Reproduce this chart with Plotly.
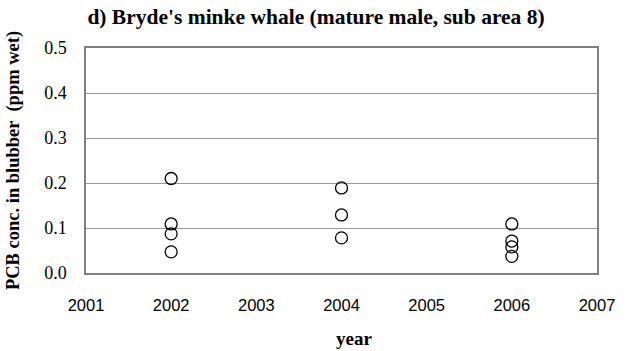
import plotly.graph_objects as go

years_2002 = [2002, 2002, 2002, 2002]
pcb_2002 = [0.21, 0.109, 0.087, 0.047]
years_2004 = [2004, 2004, 2004]
pcb_2004 = [0.189, 0.129, 0.078]
years_2006 = [2006, 2006, 2006, 2006]
pcb_2006 = [0.109, 0.071, 0.058, 0.037]

x_vals = years_2002 + years_2004 + years_2006
y_vals = pcb_2002 + pcb_2004 + pcb_2006

y_ticks = [0.0, 0.1, 0.2, 0.3, 0.4, 0.5]
x_ticks = [2001, 2002, 2003, 2004, 2005, 2006, 2007]

SERIF = "Liberation Serif, Times New Roman, serif"
SANS = "Liberation Sans, Arial, sans-serif"

fig = go.Figure()
fig.add_trace(go.Scatter(
    x=x_vals, y=y_vals, mode="markers",
    marker=dict(symbol="circle-open", size=12, color="black", line=dict(width=1.3, color="black")),
    showlegend=False,
))

fig.update_layout(
    width=627, height=351,
    margin=dict(l=86, r=30, t=48, b=78),
    paper_bgcolor="white", plot_bgcolor="white",
    title=dict(text="<b>d) Bryde's minke whale (mature male, sub area 8)</b>",
             x=0.504, xref="container", xanchor="center", y=0.952, yanchor="middle",
             font=dict(family=SERIF, size=21.5, color="black")),
    annotations=[dict(
        text="<b>year</b>", xref="paper", yref="paper", x=0.524, y=-0.289,
        xanchor="center", yanchor="middle", showarrow=False,
        font=dict(family=SERIF, size=19, color="black"),
    )],
)
fig.update_xaxes(
    range=[2001, 2007], tickvals=x_ticks, ticktext=[str(v) for v in x_ticks],
    showgrid=False, showline=True, linecolor="#808080", linewidth=1.5, mirror=True,
    ticks="", tickfont=dict(family=SANS, size=16.5, color="black"),
    ticklabelstandoff=16, automargin=False,
    zeroline=False,
)
fig.update_yaxes(
    range=[0, 0.5], tickvals=y_ticks, ticktext=[f"{v:.1f}" for v in y_ticks],
    showgrid=True, gridcolor="#999999", gridwidth=1,
    showline=True, linecolor="#808080", linewidth=1.5, mirror=True,
    ticks="", tickfont=dict(family=SERIF, size=18, color="black"),
    ticklabelstandoff=14, automargin=False,
    title=dict(text="<b>PCB conc. in blubber  (ppm wet)</b>", font=dict(family=SERIF, size=18.5, color="black"), standoff=20),
    zeroline=False,
)

fig.write_html("out.html")
